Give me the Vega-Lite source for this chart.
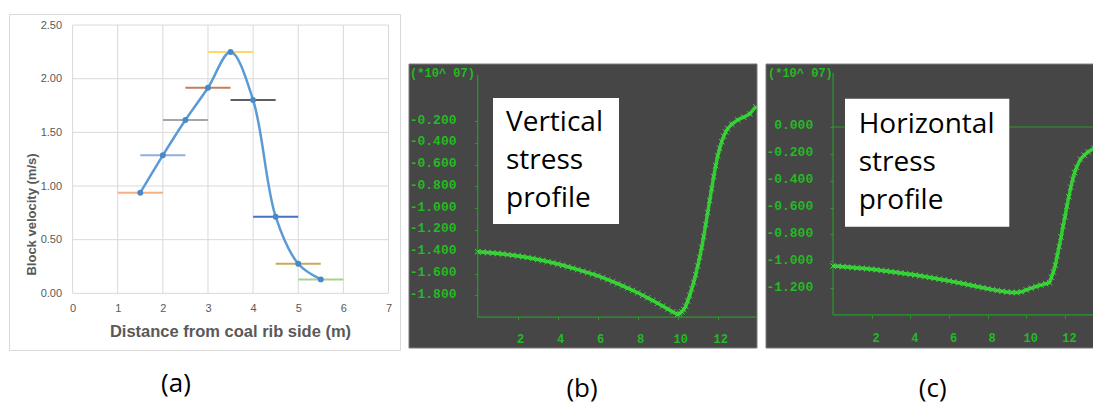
{
  "$schema": "https://vega.github.io/schema/vega-lite/v6.json",
  "padding": {"left": 8, "top": 13, "right": 0, "bottom": 2},
  "autosize": {"type": "pad"},
  "background": "white",
  "spacing": 7,
  "config": {"view": {"stroke": null}},
  "datasets": {
    "gridX": [{"g": 0}, {"g": 1}, {"g": 2}, {"g": 3}, {"g": 4}, {"g": 5}, {"g": 6}, {"g": 7}],
    "gridY": [{"g": 0}, {"g": 0.5}, {"g": 1}, {"g": 1.5}, {"g": 2}, {"g": 2.5}],
    "velocity": [
      {"x": 1.5, "v": 0.938, "lo": 1.0, "hi": 2.0, "s": "e1"},
      {"x": 2.0, "v": 1.286, "lo": 1.5, "hi": 2.5, "s": "e2"},
      {"x": 2.5, "v": 1.615, "lo": 2.0, "hi": 3.0, "s": "e3"},
      {"x": 3.0, "v": 1.916, "lo": 2.5, "hi": 3.5, "s": "e4"},
      {"x": 3.5, "v": 2.249, "lo": 3.0, "hi": 4.0, "s": "e5"},
      {"x": 4.0, "v": 1.801, "lo": 3.5, "hi": 4.5, "s": "e6"},
      {"x": 4.5, "v": 0.714, "lo": 4.0, "hi": 5.0, "s": "e7"},
      {"x": 5.0, "v": 0.276, "lo": 4.5, "hi": 5.5, "s": "e8"},
      {"x": 5.5, "v": 0.130, "lo": 5.0, "hi": 6.0, "s": "e9"}
    ],
    "vertical": [
      {"x": 0, "v": -1.400}, {"x": 0.25, "v": -1.403}, {"x": 0.5, "v": -1.407}, {"x": 0.75, "v": -1.411},
      {"x": 1, "v": -1.415}, {"x": 1.25, "v": -1.420}, {"x": 1.5, "v": -1.426}, {"x": 1.75, "v": -1.432},
      {"x": 2, "v": -1.438}, {"x": 2.25, "v": -1.445}, {"x": 2.5, "v": -1.453}, {"x": 2.75, "v": -1.461},
      {"x": 3, "v": -1.470}, {"x": 3.25, "v": -1.480}, {"x": 3.5, "v": -1.490}, {"x": 3.75, "v": -1.501},
      {"x": 4, "v": -1.512}, {"x": 4.25, "v": -1.524}, {"x": 4.5, "v": -1.537}, {"x": 4.75, "v": -1.550},
      {"x": 5, "v": -1.563}, {"x": 5.25, "v": -1.577}, {"x": 5.5, "v": -1.591}, {"x": 5.75, "v": -1.605},
      {"x": 6, "v": -1.620}, {"x": 6.25, "v": -1.637}, {"x": 6.5, "v": -1.655}, {"x": 6.75, "v": -1.674},
      {"x": 7, "v": -1.693}, {"x": 7.25, "v": -1.713}, {"x": 7.5, "v": -1.733}, {"x": 7.75, "v": -1.754},
      {"x": 8, "v": -1.776}, {"x": 8.25, "v": -1.799}, {"x": 8.5, "v": -1.823}, {"x": 8.75, "v": -1.847},
      {"x": 9, "v": -1.872}, {"x": 9.25, "v": -1.898}, {"x": 9.5, "v": -1.925}, {"x": 9.75, "v": -1.951},
      {"x": 10, "v": -1.975}, {"x": 10.1, "v": -1.965}, {"x": 10.2, "v": -1.95}, {"x": 10.3, "v": -1.93},
      {"x": 10.4, "v": -1.90}, {"x": 10.5, "v": -1.85}, {"x": 10.6, "v": -1.80}, {"x": 10.7, "v": -1.74},
      {"x": 10.8, "v": -1.68}, {"x": 10.9, "v": -1.61}, {"x": 11.0, "v": -1.53}, {"x": 11.1, "v": -1.45},
      {"x": 11.2, "v": -1.36}, {"x": 11.3, "v": -1.26}, {"x": 11.4, "v": -1.15}, {"x": 11.5, "v": -1.04},
      {"x": 11.6, "v": -0.93}, {"x": 11.7, "v": -0.82}, {"x": 11.8, "v": -0.71}, {"x": 11.9, "v": -0.61},
      {"x": 12.0, "v": -0.52}, {"x": 12.1, "v": -0.45}, {"x": 12.2, "v": -0.39}, {"x": 12.3, "v": -0.34},
      {"x": 12.4, "v": -0.30}, {"x": 12.5, "v": -0.27}, {"x": 12.7, "v": -0.23}, {"x": 13.0, "v": -0.19},
      {"x": 13.3, "v": -0.165}, {"x": 13.6, "v": -0.135}, {"x": 13.9, "v": -0.07}
    ],
    "horizontal": [
      {"x": 0, "v": -1.036}, {"x": 0.25, "v": -1.038}, {"x": 0.5, "v": -1.041}, {"x": 0.75, "v": -1.044},
      {"x": 1, "v": -1.047}, {"x": 1.25, "v": -1.050}, {"x": 1.5, "v": -1.053}, {"x": 1.75, "v": -1.056},
      {"x": 2, "v": -1.060}, {"x": 2.25, "v": -1.064}, {"x": 2.5, "v": -1.069}, {"x": 2.75, "v": -1.073},
      {"x": 3, "v": -1.078}, {"x": 3.25, "v": -1.083}, {"x": 3.5, "v": -1.088}, {"x": 3.75, "v": -1.093},
      {"x": 4, "v": -1.098}, {"x": 4.25, "v": -1.103}, {"x": 4.5, "v": -1.109}, {"x": 4.75, "v": -1.115},
      {"x": 5, "v": -1.121}, {"x": 5.25, "v": -1.127}, {"x": 5.5, "v": -1.134}, {"x": 5.75, "v": -1.140},
      {"x": 6, "v": -1.147}, {"x": 6.25, "v": -1.154}, {"x": 6.5, "v": -1.161}, {"x": 6.75, "v": -1.168},
      {"x": 7, "v": -1.176}, {"x": 7.25, "v": -1.183}, {"x": 7.5, "v": -1.191}, {"x": 7.75, "v": -1.198},
      {"x": 8, "v": -1.205}, {"x": 8.25, "v": -1.212}, {"x": 8.5, "v": -1.218}, {"x": 8.75, "v": -1.224},
      {"x": 9, "v": -1.229}, {"x": 9.25, "v": -1.233}, {"x": 9.5, "v": -1.234}, {"x": 9.75, "v": -1.228},
      {"x": 10, "v": -1.214}, {"x": 10.25, "v": -1.201}, {"x": 10.5, "v": -1.189}, {"x": 10.75, "v": -1.178},
      {"x": 11, "v": -1.168}, {"x": 11.2, "v": -1.160}, {"x": 11.3, "v": -1.12}, {"x": 11.4, "v": -1.08},
      {"x": 11.5, "v": -1.03}, {"x": 11.6, "v": -0.96}, {"x": 11.7, "v": -0.89}, {"x": 11.8, "v": -0.82},
      {"x": 11.9, "v": -0.74}, {"x": 12.0, "v": -0.67}, {"x": 12.1, "v": -0.59}, {"x": 12.2, "v": -0.52},
      {"x": 12.3, "v": -0.45}, {"x": 12.4, "v": -0.39}, {"x": 12.5, "v": -0.34}, {"x": 12.6, "v": -0.30},
      {"x": 12.8, "v": -0.24}, {"x": 13.0, "v": -0.21}, {"x": 13.2, "v": -0.185}, {"x": 13.5, "v": -0.16}
    ]
  },
  "hconcat": [
    {
      "width": 391,
      "height": 336,
      "view": {"stroke": "#d9d9d9", "fill": "white", "strokeJoin": "round"},
      "resolve": {"axis": {"x": "independent", "y": "independent"}},
      "layer": [
        {
          "data": {"name": "gridX"},
          "mark": {"type": "rule", "color": "#d9d9d9", "strokeWidth": 1},
          "encoding": {
            "x": {"field": "g", "type": "quantitative", "scale": {"domain": [-1.409, 7.255], "nice": false, "zero": false}, "axis": null},
            "y": {"datum": 0, "axis": null},
            "y2": {"datum": 2.5}
          }
        },
        {
          "data": {"name": "gridY"},
          "mark": {"type": "rule", "color": "#d9d9d9", "strokeWidth": 1},
          "encoding": {
            "y": {"field": "g", "type": "quantitative", "scale": {"domain": [-0.528, 2.603], "nice": false, "zero": false}, "axis": null},
            "x": {"datum": 0, "axis": null},
            "x2": {"datum": 7}
          }
        },
        {
          "data": {"name": "velocity"},
          "mark": {"type": "rule", "strokeWidth": 2},
          "encoding": {
            "x": {"field": "lo", "type": "quantitative", "scale": {"domain": [-1.409, 7.255], "nice": false, "zero": false}, "axis": null},
            "x2": {"field": "hi"},
            "y": {"field": "v", "type": "quantitative", "scale": {"domain": [-0.528, 2.603], "nice": false, "zero": false}, "axis": null},
            "color": {
              "field": "s", "type": "nominal", "legend": null,
              "scale": {
                "domain": ["e1", "e2", "e3", "e4", "e5", "e6", "e7", "e8", "e9"],
                "range": ["#f4b183", "#8eb1da", "#a5a5a5", "#c47f57", "#ffd966", "#5e5e5e", "#4472c4", "#c9a95a", "#a9d18e"]
              }
            }
          }
        },
        {
          "data": {"name": "velocity"},
          "mark": {"type": "line", "interpolate": "catmull-rom", "color": "#5b9bd5", "strokeWidth": 2.5, "strokeJoin": "round"},
          "encoding": {
            "x": {
              "field": "x", "type": "quantitative",
              "scale": {"domain": [-1.409, 7.255], "nice": false, "zero": false},
              "axis": {
                "orient": "bottom", "offset": -56.7, "values": [0, 1, 2, 3, 4, 5, 6, 7], "format": "d",
                "domain": false, "ticks": false, "grid": false, "labelPadding": 9, "labelFlush": false,
                "labelFont": "Liberation Sans", "labelFontSize": 11, "labelColor": "#595959",
                "title": "Distance from coal rib side (m)", "titleFont": "Liberation Sans", "titleFontSize": 16.5,
                "titleFontWeight": "bold", "titleColor": "#595959", "titleX": 221, "titleY": 38,
                "titleAlign": "center", "titleBaseline": "middle", "zindex": 1
              }
            },
            "y": {
              "field": "v", "type": "quantitative",
              "scale": {"domain": [-0.528, 2.603], "nice": false, "zero": false},
              "axis": {
                "orient": "left", "offset": -63.6, "values": [0, 0.5, 1, 1.5, 2, 2.5], "format": ".2f",
                "domain": false, "ticks": false, "grid": false, "labelPadding": 11, "labelFlush": false,
                "labelFont": "Liberation Sans", "labelFontSize": 11, "labelColor": "#595959",
                "title": "Block velocity (m/s)", "titleFont": "Liberation Sans", "titleFontSize": 13,
                "titleFontWeight": "bold", "titleColor": "#595959", "titleX": -41.6, "titleY": 200,
                "titleAngle": 270, "titleAlign": "center", "titleBaseline": "middle", "zindex": 1
              }
            }
          }
        },
        {
          "data": {"name": "velocity"},
          "mark": {"type": "point", "shape": "circle", "filled": true, "size": 35, "color": "#4a89c8", "opacity": 1},
          "encoding": {
            "x": {"field": "x", "type": "quantitative", "axis": null},
            "y": {"field": "v", "type": "quantitative", "axis": null}
          }
        },
        {
          "data": {"values": [{}]},
          "mark": {"type": "text", "text": "(a)", "font": "Open Sans", "fontSize": 26, "color": "#000000", "align": "center", "baseline": "middle"},
          "encoding": {"x": {"datum": 2.291, "axis": null}, "y": {"datum": -0.845, "axis": null}}
        }
      ]
    },
    {
      "width": 348,
      "height": 334,
      "resolve": {"axis": {"x": "independent", "y": "independent"}},
      "layer": [
        {
          "data": {"values": [{}]},
          "mark": {"type": "rect", "color": "#464646", "stroke": "#7a7a7a", "strokeWidth": 1, "strokeJoin": "round"},
          "encoding": {
            "x": {"datum": -3.435, "scale": {"domain": [-3.435, 13.965], "nice": false, "zero": false}, "axis": null},
            "x2": {"datum": 13.965},
            "y": {"datum": -2.2826, "scale": {"domain": [-2.2826, 0.7817], "nice": false, "zero": false}, "axis": null},
            "y2": {"datum": 0.3229}
          }
        },
        {
          "data": {"values": [{}]},
          "mark": {"type": "rule", "color": "#2a9a2a", "strokeWidth": 1.2},
          "encoding": {"x": {"datum": 0, "axis": null}, "x2": {"datum": 13.95}, "y": {"datum": -2.0, "axis": null}}
        },
        {
          "data": {"values": [{}]},
          "mark": {"type": "rule", "color": "#2a9a2a", "strokeWidth": 1.2},
          "encoding": {"x": {"datum": 0, "axis": null}, "y": {"datum": -2.0, "axis": null}, "y2": {"datum": 0.222}}
        },
        {
          "data": {"values": [{}]},
          "mark": {"type": "rect", "color": "#ffffff"},
          "encoding": {"x": {"datum": 0.765, "axis": null}, "x2": {"datum": 7.065}, "y": {"datum": 0.011, "axis": null}, "y2": {"datum": -1.145}}
        },
        {
          "data": {"values": [{}]},
          "mark": {"type": "text", "text": ["Vertical", "stress", "profile"], "font": "Open Sans", "fontSize": 28, "lineHeight": 38, "color": "#000000", "align": "left", "baseline": "middle"},
          "encoding": {"x": {"datum": 1.415, "axis": null}, "y": {"datum": -0.218, "axis": null}}
        },
        {
          "data": {"name": "vertical"},
          "mark": {"type": "line", "color": "#33cc33", "strokeWidth": 3.5, "strokeJoin": "round", "clip": true},
          "encoding": {
            "x": {
              "field": "x", "type": "quantitative",
              "scale": {"domain": [-3.435, 13.965], "nice": false, "zero": false},
              "axis": {
                "orient": "bottom", "offset": -31.3, "values": [2, 4, 6, 8, 10, 12], "format": "d",
                "domain": false, "grid": false, "ticks": true, "tickSize": 3, "tickColor": "#2a9a2a",
                "labelColor": "#22bb22", "labelFont": "Liberation Mono", "labelFontWeight": "bold",
                "labelFontSize": 12, "labelPadding": 14, "labelOffset": 2.5, "labelFlush": false,
                "title": null, "zindex": 1
              }
            },
            "y": {
              "field": "v", "type": "quantitative",
              "scale": {"domain": [-2.2826, 0.7817], "nice": false, "zero": false},
              "axis": {
                "orient": "left", "offset": -68.7, "values": [-0.2, -0.4, -0.6, -0.8, -1.0, -1.2, -1.4, -1.6, -1.8],
                "format": ".3f", "labelExpr": "replace(datum.label, '\u2212', '-')",
                "domain": false, "grid": false, "ticks": true, "tickSize": 3, "tickColor": "#2a9a2a",
                "labelColor": "#22bb22", "labelFont": "Liberation Mono", "labelFontWeight": "bold",
                "labelFontSize": 13, "labelPadding": 18.7, "labelOffset": -2, "labelFlush": false,
                "title": null, "zindex": 1
              }
            }
          }
        },
        {
          "data": {"name": "vertical"},
          "mark": {"type": "point", "shape": "M-1,-1L1,1M-1,1L1,-1", "filled": false, "size": 30, "stroke": "#3ddc3d", "strokeWidth": 1, "opacity": 1, "clip": true},
          "encoding": {
            "x": {"field": "x", "type": "quantitative", "axis": null},
            "y": {"field": "v", "type": "quantitative", "axis": null}
          }
        },
        {
          "data": {"values": [{}]},
          "mark": {"type": "text", "text": "(*10^ 07)", "font": "Liberation Mono", "fontWeight": "bold", "fontSize": 12, "color": "#22bb22", "align": "left", "baseline": "middle"},
          "encoding": {"x": {"datum": -3.38, "axis": null}, "y": {"datum": 0.2376, "axis": null}}
        },
        {
          "data": {"values": [{}]},
          "mark": {"type": "text", "text": "(b)", "font": "Open Sans", "fontSize": 26, "color": "#000000", "align": "center", "baseline": "middle"},
          "encoding": {"x": {"datum": 5.215, "axis": null}, "y": {"datum": -2.659, "axis": null}}
        }
      ]
    },
    {
      "width": 328,
      "height": 334,
      "resolve": {"axis": {"x": "independent", "y": "independent"}},
      "layer": [
        {
          "data": {"values": [{}]},
          "mark": {"type": "rect", "color": "#464646", "stroke": "#7a7a7a", "strokeWidth": 1, "strokeJoin": "round"},
          "encoding": {
            "x": {"datum": -3.466, "scale": {"domain": [-3.466, 13.502], "nice": false, "zero": false}, "axis": null},
            "x2": {"datum": 13.502},
            "y": {"datum": -1.647, "scale": {"domain": [-1.647, 0.842], "nice": false, "zero": false}, "axis": null},
            "y2": {"datum": 0.469}
          }
        },
        {
          "data": {"values": [{}]},
          "mark": {"type": "rule", "color": "#2a9a2a", "strokeWidth": 1.2},
          "encoding": {"x": {"datum": 0, "axis": null}, "x2": {"datum": 13.5}, "y": {"datum": -1.4, "axis": null}}
        },
        {
          "data": {"values": [{}]},
          "mark": {"type": "rule", "color": "#2a9a2a", "strokeWidth": 1.2},
          "encoding": {"x": {"datum": 0, "axis": null}, "x2": {"datum": 13.5}, "y": {"datum": 0, "axis": null}}
        },
        {
          "data": {"values": [{}]},
          "mark": {"type": "rule", "color": "#2a9a2a", "strokeWidth": 1.2},
          "encoding": {"x": {"datum": 0, "axis": null}, "y": {"datum": -1.4, "axis": null}, "y2": {"datum": 0.405}}
        },
        {
          "data": {"values": [{}]},
          "mark": {"type": "rect", "color": "#ffffff"},
          "encoding": {"x": {"datum": 0.621, "axis": null}, "x2": {"datum": 9.12}, "y": {"datum": 0.211, "axis": null}, "y2": {"datum": -0.743}}
        },
        {
          "data": {"values": [{}]},
          "mark": {"type": "text", "text": ["Horizontal", "stress", "profile"], "font": "Open Sans", "fontSize": 28, "lineHeight": 38, "color": "#000000", "align": "left", "baseline": "middle"},
          "encoding": {"x": {"datum": 1.33, "axis": null}, "y": {"datum": 0.015, "axis": null}}
        },
        {
          "data": {"name": "horizontal"},
          "mark": {"type": "line", "color": "#33cc33", "strokeWidth": 3.5, "strokeJoin": "round", "clip": true},
          "encoding": {
            "x": {
              "field": "x", "type": "quantitative",
              "scale": {"domain": [-3.466, 13.502], "nice": false, "zero": false},
              "axis": {
                "orient": "bottom", "offset": -32.7, "values": [2, 4, 6, 8, 10, 12], "format": "d",
                "domain": false, "grid": false, "ticks": true, "tickSize": 3, "tickColor": "#2a9a2a",
                "labelColor": "#22bb22", "labelFont": "Liberation Mono", "labelFontWeight": "bold",
                "labelFontSize": 12, "labelPadding": 14, "labelOffset": 4, "labelFlush": false,
                "title": null, "zindex": 1
              }
            },
            "y": {
              "field": "v", "type": "quantitative",
              "scale": {"domain": [-1.647, 0.842], "nice": false, "zero": false},
              "axis": {
                "orient": "left", "offset": -67, "values": [0, -0.2, -0.4, -0.6, -0.8, -1.0, -1.2],
                "format": ".3f", "labelExpr": "replace(datum.label, '\u2212', '-')",
                "domain": false, "grid": false, "ticks": true, "tickSize": 3, "tickColor": "#2a9a2a",
                "labelColor": "#22bb22", "labelFont": "Liberation Mono", "labelFontWeight": "bold",
                "labelFontSize": 13, "labelPadding": 17.3, "labelOffset": -2, "labelFlush": false,
                "title": null, "zindex": 1
              }
            }
          }
        },
        {
          "data": {"name": "horizontal"},
          "mark": {"type": "point", "shape": "M-1,-1L1,1M-1,1L1,-1", "filled": false, "size": 30, "stroke": "#3ddc3d", "strokeWidth": 1, "opacity": 1, "clip": true},
          "encoding": {
            "x": {"field": "x", "type": "quantitative", "axis": null},
            "y": {"field": "v", "type": "quantitative", "axis": null}
          }
        },
        {
          "data": {"values": [{}]},
          "mark": {"type": "text", "text": "(*10^ 07)", "font": "Liberation Mono", "fontWeight": "bold", "fontSize": 12, "color": "#22bb22", "align": "left", "baseline": "middle"},
          "encoding": {"x": {"datum": -3.363, "axis": null}, "y": {"datum": 0.3987, "axis": null}}
        },
        {
          "data": {"values": [{}]},
          "mark": {"type": "text", "text": "(c)", "font": "Open Sans", "fontSize": 26, "color": "#000000", "align": "center", "baseline": "middle"},
          "encoding": {"x": {"datum": 5.158, "axis": null}, "y": {"datum": -1.952, "axis": null}}
        }
      ]
    }
  ]
}
